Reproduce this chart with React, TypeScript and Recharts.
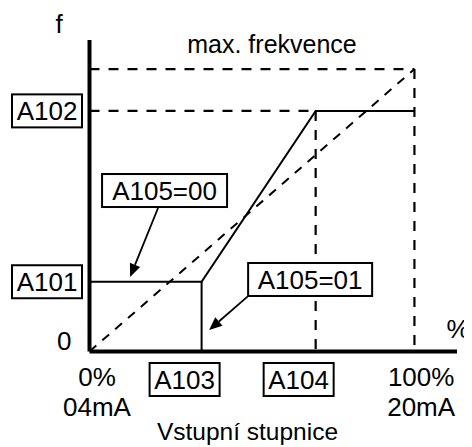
import React from 'react';
import {
  ComposedChart,
  Line,
  XAxis,
  YAxis,
  ReferenceLine,
  ReferenceDot,
  Customized,
} from 'recharts';

// ---- values (in % of input / % of max frequency) ----
const A101 = 24.7;
const A102 = 85.2;
const A103 = 34.5;
const A104 = 69.6;
const MAX = 100;

const xTickValues = [0, A103, A104, MAX];
const xTickLabels = [['0%', '04mA'], ['A103'], ['A104'], ['100%', '20mA']];
const xTickBoxed = [false, true, true, false];

const yTickValues = [0, A101, A102];
const yTickLabels = ['0', 'A101', 'A102'];
const yTickBoxed = [false, true, true];

// solid output characteristic (A105=00 path incl. bias / gain)
const solidCurve = [
  { x: 0, y: A101 },
  { x: A103, y: A101 },
  { x: A104, y: A102 },
  { x: MAX, y: A102 },
];
// A105=01 : output drops to 0 at A103
const solidDrop = [
  { x: A103, y: 0 },
  { x: A103, y: A101 },
];
// dashed guides
const dashDiagonal = [
  { x: 0, y: 0 },
  { x: MAX, y: MAX },
];
const dashTop = [
  { x: 0, y: MAX },
  { x: MAX, y: MAX },
];
const dashRight = [
  { x: MAX, y: MAX },
  { x: MAX, y: 0 },
];
const dashA102 = [
  { x: 0, y: A102 },
  { x: A104, y: A102 },
];
const dashA104 = [
  { x: A104, y: A102 },
  { x: A104, y: 0 },
];

// annotation anchors (data coords)
const note00 = { x: 23.1, y: 57.0, text: 'A105=00' };
const note01 = { x: 67.9, y: 25.5, text: 'A105=01' };
const arrow00 = [
  { x: 21.1, y: 50.8 },
  { x: 12.5, y: 26.4 },
];
const arrow01 = [
  { x: 48.8, y: 19.6 },
  { x: 36.8, y: 7.6 },
];

const FONT = '"Liberation Sans", Arial, sans-serif';
const FS = 26;

const BoxedText = ({ cx, cy, text, w }: any) => {
  const h = 33;
  return (
    <g>
      <rect x={cx - w / 2} y={cy - h / 2} width={w} height={h} fill="#fff" stroke="#000" strokeWidth={2} />
      <text x={cx} y={cy + FS * 0.36} textAnchor="middle" fontFamily={FONT} fontSize={FS} fill="#000">
        {text}
      </text>
    </g>
  );
};

const YTick = (props: any) => {
  const { x, y, index } = props;
  const label = yTickLabels[index];
  if (!yTickBoxed[index]) {
    return (
      <text x={x - 18} y={y - 1.5} textAnchor="end" fontFamily={FONT} fontSize={FS} fill="#000">
        {label}
      </text>
    );
  }
  return <BoxedText cx={x - 42.5} cy={y} text={label} w={70} />;
};

const XTick = (props: any) => {
  const { x, y, index } = props;
  const lines = xTickLabels[index];
  if (xTickBoxed[index]) {
    return <BoxedText cx={x - 17} cy={y + 28} text={lines[0]} w={70} />;
  }
  const dx = index === 0 ? 7.5 : 6.7;
  return (
    <g>
      {lines.map((l, i) => (
        <text key={i} x={x + dx} y={y + 34.5 + i * 30} textAnchor="middle" fontFamily={FONT} fontSize={FS} fill="#000">
          {l}
        </text>
      ))}
    </g>
  );
};

const Arrow = (props: any) => {
  const { x1, y1, x2, y2 } = props;
  const ang = Math.atan2(y2 - y1, x2 - x1);
  const L = 13;
  const W = 5.5;
  const bx = x2 - L * Math.cos(ang);
  const by = y2 - L * Math.sin(ang);
  const px = -Math.sin(ang) * W;
  const py = Math.cos(ang) * W;
  return (
    <g>
      <line x1={x1} y1={y1} x2={bx} y2={by} stroke="#000" strokeWidth={1.8} />
      <polygon points={`${x2},${y2} ${bx + px},${by + py} ${bx - px},${by - py}`} fill="#000" />
    </g>
  );
};

const FreeText = () => (
  <g fontFamily={FONT} fill="#000">
    <text x={51} y={25} textAnchor="middle" fontSize={FS}>f</text>
    <text x={264} y={45} textAnchor="middle" fontSize={25}>max. frekvence</text>
    <text x={450} y={330} textAnchor="middle" fontSize={FS}>%</text>
    <text x={239.5} y={432} textAnchor="middle" fontSize={24.5}>Vstupní stupnice</text>
  </g>
);

const lineCommon = {
  dataKey: 'y',
  type: 'linear' as const,
  dot: false,
  activeDot: false,
  isAnimationActive: false,
  stroke: '#000',
  legendType: 'none' as const,
};

export default function App() {
  return (
    <div style={{ width: 464, height: 439 }}>
      <ComposedChart width={464} height={439} margin={{ top: 32, right: 15, bottom: 0, left: 0 }}>
        <XAxis
          type="number"
          dataKey="x"
          domain={[0, 113.1]}
          ticks={xTickValues}
          interval={0}
          tickSize={0}
          tickMargin={0}
          tickLine={false}
          height={95.5}
          axisLine={{ stroke: '#000', strokeWidth: 4 }}
          tick={<XTick />}
          allowDataOverflow
        />
        <YAxis
          type="number"
          domain={[0, 110.3]}
          ticks={yTickValues}
          interval={0}
          tickSize={0}
          tickMargin={0}
          tickLine={false}
          width={81.5}
          axisLine={{ stroke: '#000', strokeWidth: 4 }}
          tick={<YTick />}
          allowDataOverflow
        />
        <Line {...lineCommon} data={dashDiagonal} strokeWidth={2} strokeDasharray="9 8" />
        <Line {...lineCommon} data={dashTop} strokeWidth={2.2} strokeDasharray="10 9" />
        <Line {...lineCommon} data={dashRight} strokeWidth={2.2} strokeDasharray="10 9" />
        <Line {...lineCommon} data={dashA102} strokeWidth={2.2} strokeDasharray="10 9" />
        <Line {...lineCommon} data={dashA104} strokeWidth={2.2} strokeDasharray="10 9" />
        <Line {...lineCommon} data={solidCurve} strokeWidth={2} />
        <Line {...lineCommon} data={solidDrop} strokeWidth={2} />
        <ReferenceLine segment={arrow00} shape={<Arrow />} ifOverflow="visible" />
        <ReferenceLine segment={arrow01} shape={<Arrow />} ifOverflow="visible" />
        <ReferenceDot
          x={note00.x}
          y={note00.y}
          ifOverflow="visible"
          shape={(p: any) => <BoxedText cx={p.cx} cy={p.cy} text={note00.text} w={125} />}
        />
        <ReferenceDot
          x={note01.x}
          y={note01.y}
          ifOverflow="visible"
          shape={(p: any) => <BoxedText cx={p.cx} cy={p.cy} text={note01.text} w={124} />}
        />
        <Customized component={FreeText} />
      </ComposedChart>
    </div>
  );
}
